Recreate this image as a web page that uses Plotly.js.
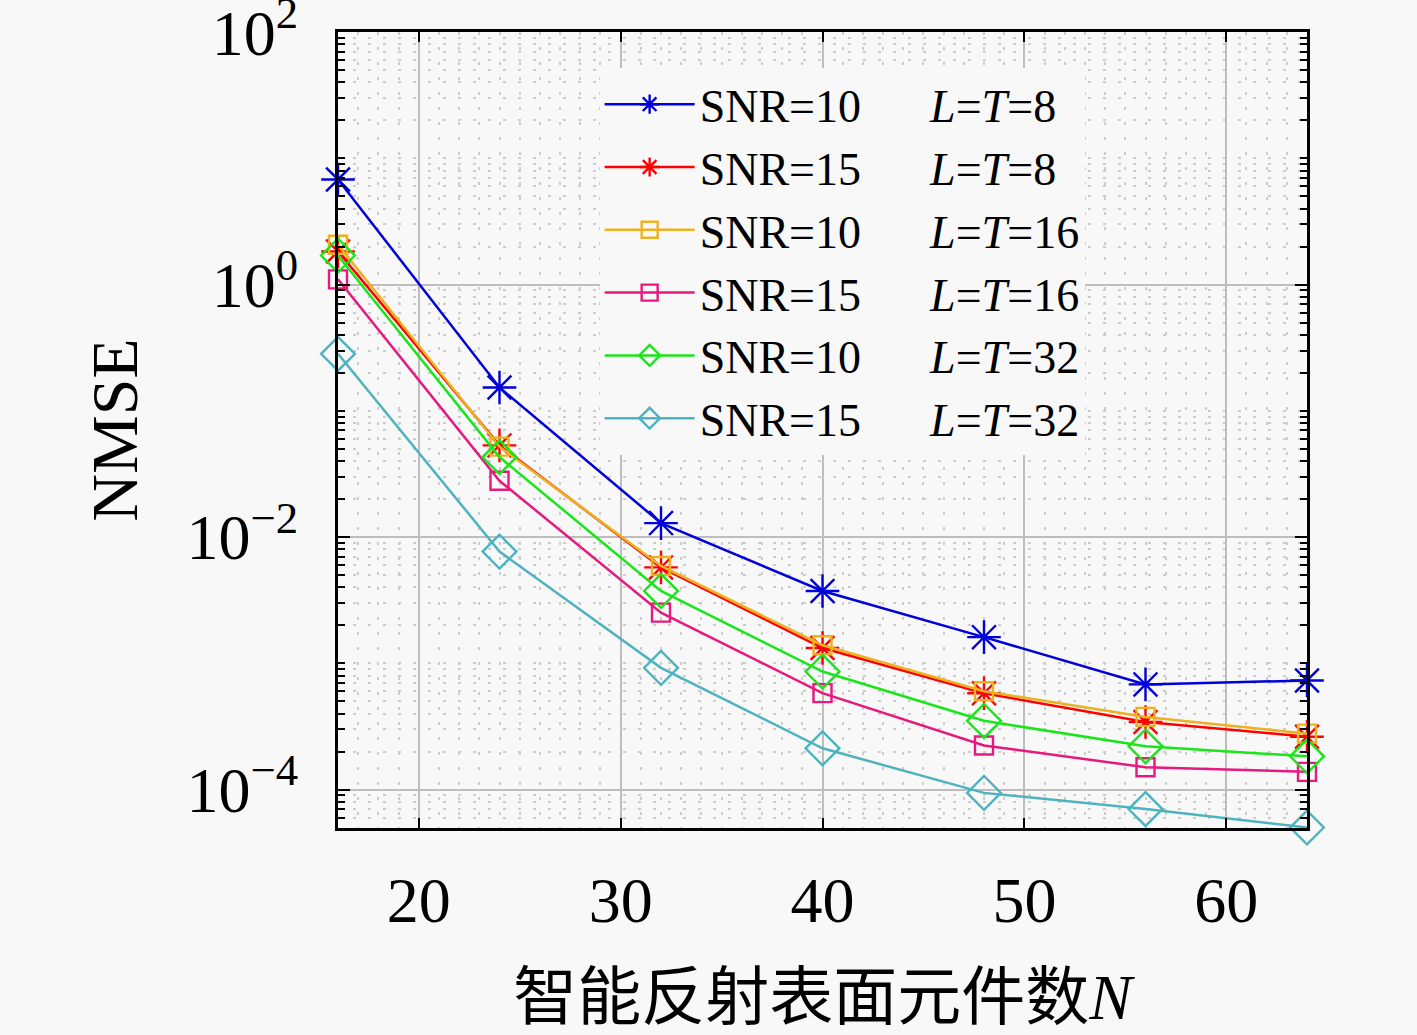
<!DOCTYPE html>
<html>
<head>
<meta charset="utf-8">
<script src="https://cdn.plot.ly/plotly-3.0.1.min.js"></script>
<style>
  html, body { margin: 0; padding: 0; background: #f8f8f8; }
  #chart { width: 1417px; height: 1035px; }
</style>
</head>
<body>
<div id="chart"></div>
<script>
// values
var elemN = [16, 24, 32, 40, 48, 56, 64];
var snr10_lt8  = [6.8, 0.153, 0.0129, 0.00374, 0.00161, 6.8e-4, 7.3e-4];
var snr15_lt8  = [1.83, 0.0532, 0.00575, 0.00132, 5.78e-4, 3.43e-4, 2.62e-4];
var snr10_lt16 = [2.07, 0.052, 0.0059, 0.00139, 6.0e-4, 3.76e-4, 2.77e-4];
var snr15_lt16 = [1.1, 0.0279, 0.00252, 5.8e-4, 2.23e-4, 1.5e-4, 1.38e-4];
var snr10_lt32 = [1.70, 0.043, 0.00374, 8.6e-4, 3.5e-4, 2.2e-4, 1.83e-4];
var snr15_lt32 = [0.283, 0.00767, 9.2e-4, 2.12e-4, 9.4e-5, 7.0e-5, 5.0e-5];

var gap = '\u00a0\u00a0\u00a0\u00a0\u00a0\u00a0';
var seriesNames = [
  'SNR=10' + gap + '<i>L</i>=<i>T</i>=8',
  'SNR=15' + gap + '<i>L</i>=<i>T</i>=8',
  'SNR=10' + gap + '<i>L</i>=<i>T</i>=16',
  'SNR=15' + gap + '<i>L</i>=<i>T</i>=16',
  'SNR=10' + gap + '<i>L</i>=<i>T</i>=32',
  'SNR=15' + gap + '<i>L</i>=<i>T</i>=32'
];
var yMajor = [1e-4, 1e-2, 1, 100];
var yMajorText = ['10<sup>\u22124</sup>', '10<sup>\u22122</sup>', '10<sup>0</sup>', '10<sup>2</sup>'];

var allY = [snr10_lt8, snr15_lt8, snr10_lt16, snr15_lt16, snr10_lt32, snr15_lt32];
var colors = ['#0000d8', '#ff0000', '#edb120', '#e6197f', '#19e619', '#4fb3bf'];
var symbols = ['asterisk-open', 'asterisk-open', 'square-open', 'square-open', 'diamond-open', 'diamond-open'];
var sizes = [28, 28, 18, 18, 26, 26];

var data = [];
for (var i = 0; i < allY.length; i++) {
  data.push({
    x: elemN,
    y: allY[i],
    name: seriesNames[i],
    type: 'scatter',
    mode: 'lines+markers',
    cliponaxis: false,
    line: {color: colors[i], width: 2.5},
    marker: {symbol: symbols[i], size: sizes[i], color: colors[i],
             line: {color: colors[i], width: 2.4}}
  });
}

// minor log ticks: 2..9 in each decade plus the odd decades
var yMinor = [];
for (var e = -5; e <= 2; e++) {
  for (var m = 1; m <= 9; m++) {
    var v = m * Math.pow(10, e);
    if (m == 1 && e % 2 == 0) continue;
    yMinor.push(v);
  }
}

var fontFam = '"Liberation Serif", "Noto Sans CJK SC", serif';

var layout = {
  width: 1417,
  height: 1035,
  paper_bgcolor: '#f8f8f8',
  plot_bgcolor: '#f8f8f8',
  margin: {l: 338, r: 110, t: 32, b: 207},
  font: {family: fontFam, color: '#000', size: 60},
  showlegend: true,
  legend: {
    x: 0.27, y: 0.955, xanchor: 'left', yanchor: 'top',
    bgcolor: '#f8f8f8', borderwidth: 0,
    font: {family: fontFam, size: 46, color: '#000'},
    itemwidth: 90, tracegroupgap: 0
  },
  xaxis: {
    range: [16, 64],
    tickvals: [20, 30, 40, 50, 60],
    ticks: 'inside', ticklen: 10, tickwidth: 2, tickcolor: '#000',
    ticklabelstandoff: 14,
    showline: true, linecolor: '#000', linewidth: 3, mirror: 'allticks',
    showgrid: true, gridcolor: '#bdbdbd', gridwidth: 1.5,
    zeroline: false,
    tickfont: {size: 64},
    minor: {dtick: 1, showgrid: true, gridcolor: '#cdcdcd', griddash: '3px,12px', gridwidth: 1.5, ticks: ''},
    title: {text: '智能反射表面元件数<i>N</i>', font: {size: 64}, standoff: 40}
  },
  yaxis: {
    type: 'log',
    range: [-4.305, 2.001],
    tickmode: 'array',
    tickvals: yMajor,
    ticktext: yMajorText,
    ticklabeloverflow: 'allow',
    ticks: 'inside', ticklen: 12, tickwidth: 2, tickcolor: '#000',
    ticklabelstandoff: 24,
    showline: true, linecolor: '#000', linewidth: 3, mirror: 'allticks',
    showgrid: true, gridcolor: '#bdbdbd', gridwidth: 1.5,
    zeroline: false,
    tickfont: {size: 64},
    minor: {tickmode: 'array', tickvals: yMinor, ticks: 'inside', ticklen: 7, tickwidth: 2, tickcolor: '#000',
            showgrid: true, gridcolor: '#cdcdcd', griddash: '3px,12px', gridwidth: 1.5},
    title: {text: 'NMSE', font: {size: 66}, standoff: 28}
  }
};

Plotly.newPlot('chart', data, layout, {displayModeBar: false});
</script>
</body>
</html>
